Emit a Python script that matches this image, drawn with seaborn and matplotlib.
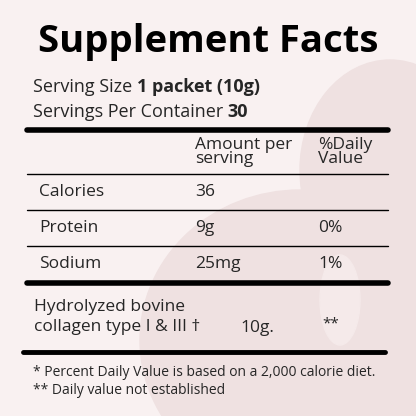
import matplotlib
matplotlib.use("Agg")
import matplotlib.pyplot as plt
import seaborn as sns
from matplotlib.patches import Ellipse

sns.set_theme(style="white")
plt.rcParams['font.family'] = ['Open Sans', 'DejaVu Sans']

title = "Supplement Facts"
serving_size = "1 packet (10g)"
servings = "30"
headers = ["Amount per\nserving", "%Daily\nValue"]
nutrients = ["Calories", "Protein", "Sodium"]
amounts = ["36", "9g", "25mg"]
daily = ["", "0%", "1%"]
ingredient = "Hydrolyzed bovine\ncollagen type I & III \u2020"
ingredient_amount = "10g."
ingredient_dv = "**"
footnotes = ["* Percent Daily Value is based on a 2,000 calorie diet.",
             "** Daily value not established"]

bg = "#f9f1f1"
shape = "#efe1e1"
fig = plt.figure(figsize=(4.16, 4.16), dpi=100, facecolor=bg)
ax = fig.add_axes([0, 0, 1, 1])
ax.set_xlim(0, 416); ax.set_ylim(416, 0); ax.axis("off")
ax.set_facecolor(bg)

# decorative background shapes
ax.add_patch(Ellipse((300, 340), 320, 300, color=shape, zorder=0))
ax.add_patch(Ellipse((390, 170), 180, 220, color=shape, zorder=0))
ax.add_patch(Ellipse((340, 300), 40, 90, color="#f5eaea", zorder=0.5))

ax.text(208, 42, title, fontsize=27.5, fontweight="bold", ha="center", va="center", color="black")
t1 = ax.text(33, 92, "Serving Size ", fontsize=13, va="baseline")
t2 = ax.text(33, 117, "Servings Per Container ", fontsize=13, va="baseline")
fig.canvas.draw()
r = fig.canvas.get_renderer()
inv = ax.transData.inverted()
def endx(txt):
    bb = txt.get_window_extent(r)
    return inv.transform((bb.x1, bb.y0))[0]
ax.text(endx(t1), 92, serving_size, fontsize=13, fontweight="bold", va="baseline")
ax.text(endx(t2), 117, servings, fontsize=13, fontweight="bold", va="baseline")

lines = [(130, 27, 388, 4), (174, 27, 388, 1), (210, 27, 388, 1), (246, 27, 388, 1),
         (283, 27, 388, 4), (352, 23, 385, 3.5)]
for y, x0, x1, lw in lines:
    sns.lineplot(x=[x0, x1], y=[y, y], ax=ax, color="black", linewidth=lw)

ax.text(195, 152, headers[0], fontsize=12.5, va="center", linespacing=0.85)
ax.text(318, 152, headers[1], fontsize=12.5, va="center", linespacing=0.85)
for i, (n, a, d) in enumerate(zip(nutrients, amounts, daily)):
    y = 192 + i * 36
    ax.text(39, y, n, fontsize=12.5, va="center")
    ax.text(195, y, a, fontsize=12.5, va="center")
    ax.text(318, y, d, fontsize=12.5, va="center")
ax.text(34, 317, ingredient, fontsize=12.5, va="center", linespacing=1.3)
ax.text(240, 328, ingredient_amount, fontsize=12.5, va="center")
ax.text(322, 324, ingredient_dv, fontsize=11, va="center")
ax.text(33, 372, footnotes[0], fontsize=10, va="center")
ax.text(33, 391, footnotes[1], fontsize=10, va="center")

fig.savefig("out.png", dpi=100, facecolor=bg)
